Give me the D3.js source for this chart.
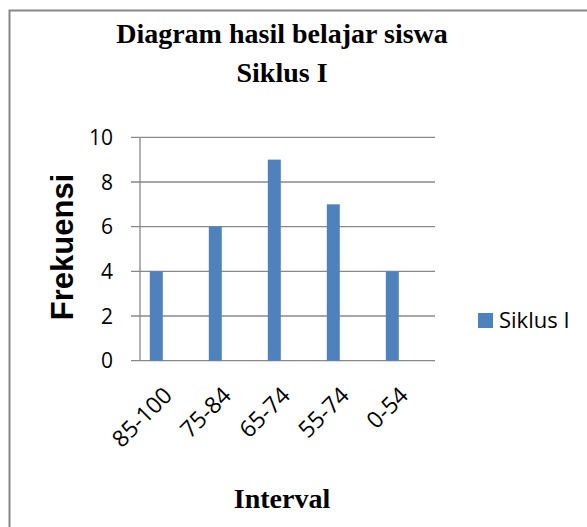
<!DOCTYPE html>
<html><head><meta charset="utf-8">
<script src="https://cdn.jsdelivr.net/npm/d3@7"></script>
<style>html,body{margin:0;padding:0;background:#fff;overflow:hidden}</style>
</head><body>
<script>
const categories = ["85-100","75-84","65-74","55-74","0-54"];
const values = [4,6,9,7,4];
const yTicks = [0,2,4,6,8,10];
const seriesName = "Siklus I";
const titleLines = ["Diagram hasil belajar siswa","Siklus I"];
const xTitle = "Interval";
const yTitle = "Frekuensi";

const W=587,H=527;
const svg=d3.select("body").append("svg").attr("width",W).attr("height",H);
svg.append("rect").attr("width",W).attr("height",H).attr("fill","#fff");
// outer chart border (clipped on right/bottom)
svg.append("rect").attr("x",9.5).attr("y",10.5).attr("width",W+20).attr("height",H+20)
  .attr("fill","none").attr("stroke","#878787").attr("stroke-width",2);

const L=140,R=435,T=137.3,B=360.7;
const x=d3.scaleBand().domain(categories).range([126.8,421.8]).paddingInner(0.78).paddingOuter(0.39);
const y=d3.scaleLinear().domain([0,10]).range([B,T]);

// gridlines
svg.append("g").selectAll("line").data(yTicks).join("line")
  .attr("x1",131).attr("x2",R).attr("y1",d=>y(d)).attr("y2",d=>y(d))
  .attr("stroke","#888").attr("stroke-width",1.3);
// y axis line
svg.append("line").attr("x1",L).attr("x2",L).attr("y1",T).attr("y2",B)
  .attr("stroke","#888").attr("stroke-width",1.3);
// tick labels
svg.append("g").selectAll("text").data(yTicks).join("text")
  .attr("x",113).attr("y",d=>y(d)).attr("dy","0.36em").attr("text-anchor","end")
  .attr("font-family","Open Sans").attr("font-size",21).attr("fill","#000").text(d=>d);

// bars
svg.append("g").selectAll("rect").data(values).join("rect")
  .attr("x",(d,i)=>x(categories[i])).attr("width",x.bandwidth())
  .attr("y",d=>y(d)).attr("height",d=>B-y(d)).attr("fill","#4f81bd");

// x labels
svg.append("g").selectAll("text").data(categories).join("text")
  .attr("transform",d=>`translate(${x(d)+x.bandwidth()/2+5},${B+24}) rotate(-45)`)
  .attr("text-anchor","end").attr("dy","0.75em")
  .attr("font-family","Open Sans").attr("font-size",23).attr("fill","#000").text(d=>d);

// titles
svg.append("g").selectAll("text").data(titleLines).join("text")
  .attr("x",282).attr("y",(d,i)=>43+i*39).attr("text-anchor","middle")
  .attr("font-family","Liberation Serif").attr("font-weight","bold").attr("font-size",28).text(d=>d);
svg.append("text").attr("x",282).attr("y",508).attr("text-anchor","middle")
  .attr("font-family","Liberation Serif").attr("font-weight","bold").attr("font-size",28).text(xTitle);
svg.append("text").attr("transform","translate(73,247) rotate(-90)").attr("text-anchor","middle")
  .attr("font-family","Liberation Sans").attr("font-weight","bold").attr("font-size",31).text(yTitle);

// legend
svg.append("rect").attr("x",478).attr("y",313).attr("width",15).attr("height",15).attr("fill","#4f81bd");
svg.append("text").attr("x",499).attr("y",320.5).attr("dy","0.36em")
  .attr("font-family","Open Sans").attr("font-size",22).text(seriesName);
</script>
</body></html>
